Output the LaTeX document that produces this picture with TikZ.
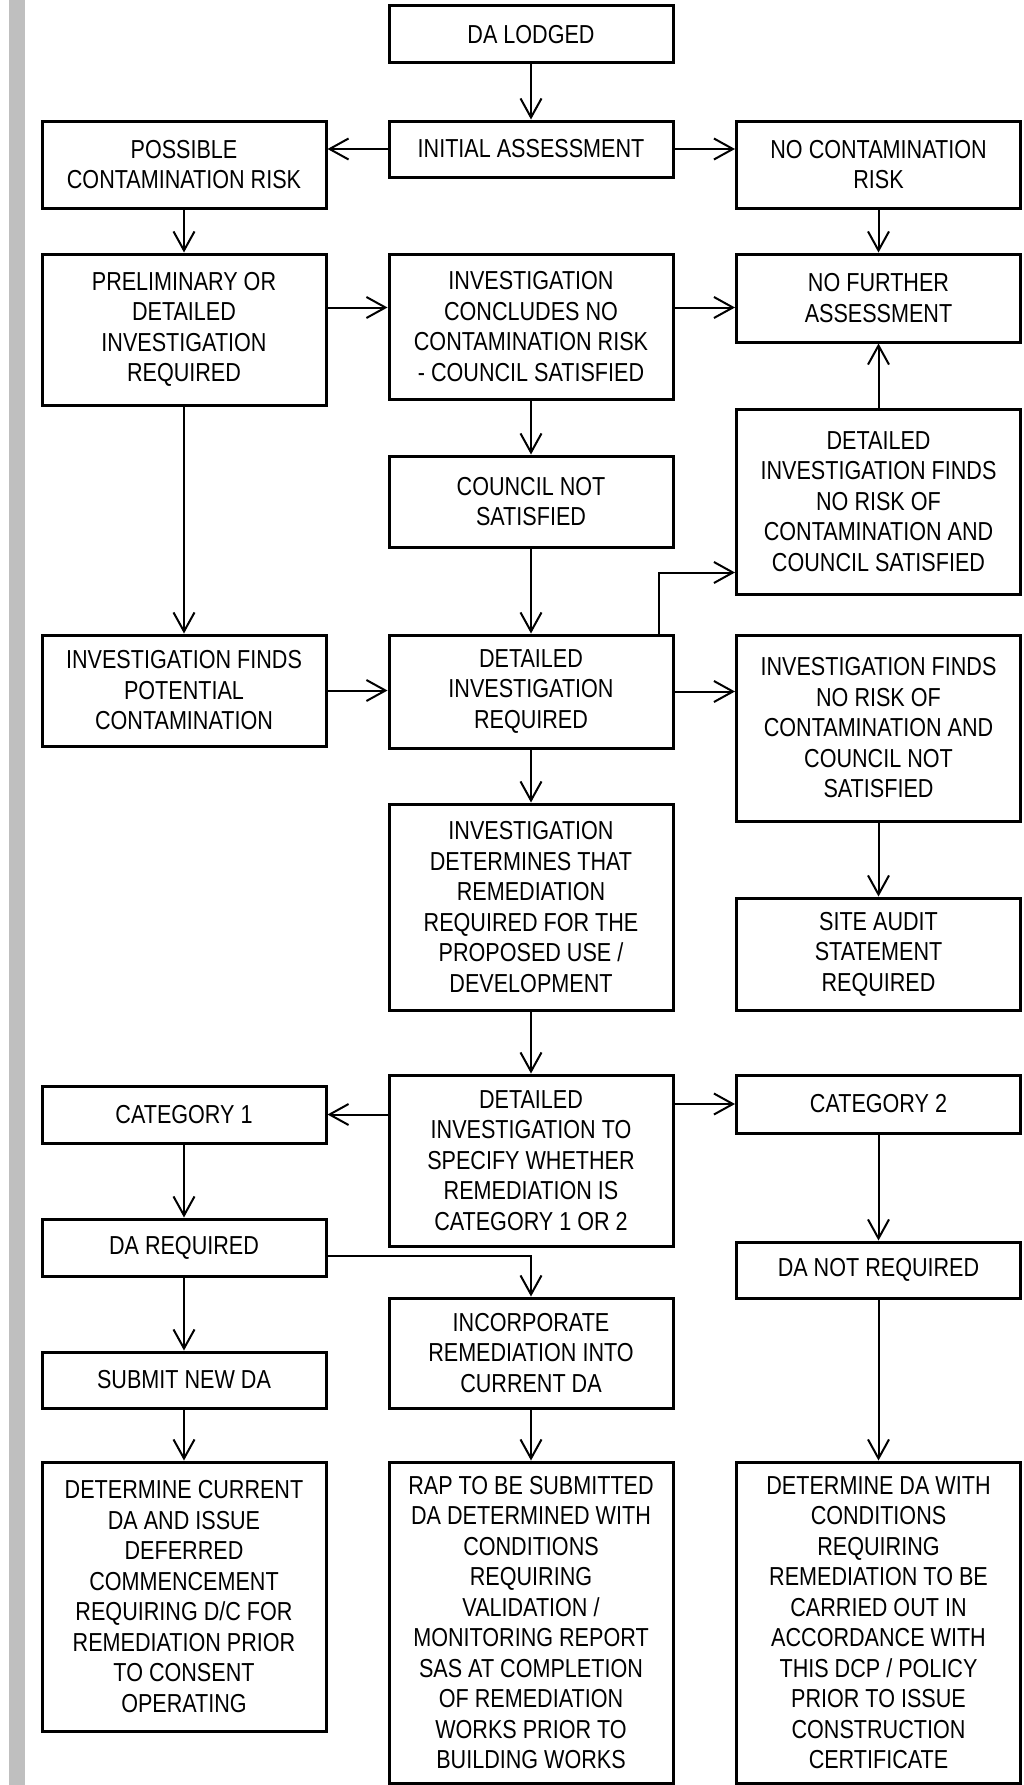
\documentclass[tikz,border=0pt]{standalone}
\usepackage{fontspec}
\setmainfont{Liberation Sans}[FakeStretch=0.83]
\usepackage{tikz}
\usetikzlibrary{arrows.meta}
\colorlet{sidebar}{black!25}

\tikzset{
	flowbox/.style={draw, line width=3pt, minimum width=284pt, inner sep=0pt, align=center, font=\fontsize{26}{30.5}\selectfont},
	link/.style={line width=2pt, -{Straight Barb[length=19pt,width=21pt,line width=2pt]}}
}

\begin{document}
\begin{tikzpicture}[x=1pt,y=-1pt]
		\useasboundingbox (0,0) rectangle (1023,1785);
		\fill[sidebar] (9,0) rectangle (25,1785);
		\node[flowbox, minimum height=57] (lodged) at (531,34.5) {DA LODGED};
		\node[flowbox, minimum height=56] (initial) at (531,149) {INITIAL ASSESSMENT};
		\node[flowbox, minimum height=87] (possible) at (184,164.5) {POSSIBLE\\CONTAMINATION RISK};
		\node[flowbox, minimum height=87] (nocontam) at (878.5,164.5) {NO CONTAMINATION\\RISK};
		\node[flowbox, minimum height=151] (prelim) at (184,329.5) {PRELIMINARY OR\\DETAILED\\INVESTIGATION\\REQUIRED};
		\node[flowbox, minimum height=145] (concludes) at (531,326.5) {INVESTIGATION\\CONCLUDES NO\\CONTAMINATION RISK\\- COUNCIL SATISFIED};
		\node[flowbox, minimum height=88] (nofurther) at (878.5,298) {NO FURTHER\\ASSESSMENT};
		\node[flowbox, minimum height=91] (notsatisfied) at (531,501.5) {COUNCIL NOT\\SATISFIED};
		\node[flowbox, minimum height=185] (satisfied) at (878.5,501.5) {DETAILED\\INVESTIGATION FINDS\\NO RISK OF\\CONTAMINATION AND\\COUNCIL SATISFIED};
		\node[flowbox, minimum height=111] (potential) at (184,690.5) {INVESTIGATION FINDS\\POTENTIAL\\CONTAMINATION};
		\node[flowbox, minimum height=113] (detailed) at (531,691.5) {DETAILED\\INVESTIGATION\\REQUIRED};
		\node[flowbox, minimum height=186] (norisk) at (878.5,728) {INVESTIGATION FINDS\\NO RISK OF\\CONTAMINATION AND\\COUNCIL NOT\\SATISFIED};
		\node[flowbox, minimum height=206] (remediation) at (531,907) {INVESTIGATION\\DETERMINES THAT\\REMEDIATION\\REQUIRED FOR THE\\PROPOSED USE /\\DEVELOPMENT};
		\node[flowbox, minimum height=112] (siteaudit) at (878.5,954) {SITE AUDIT\\STATEMENT\\REQUIRED};
		\node[flowbox, minimum height=171] (category) at (531,1160.5) {DETAILED\\INVESTIGATION TO\\SPECIFY WHETHER\\REMEDIATION IS\\CATEGORY 1 OR 2};
		\node[flowbox, minimum height=57] (catone) at (184,1114.5) {CATEGORY 1};
		\node[flowbox, minimum height=58] (cattwo) at (878.5,1104) {CATEGORY 2};
		\node[flowbox, minimum height=57] (dareq) at (184,1247.5) {DA REQUIRED};
		\node[flowbox, minimum height=56] (danotreq) at (878.5,1270) {DA NOT REQUIRED};
		\node[flowbox, minimum height=110] (incorporate) at (531,1353) {INCORPORATE\\REMEDIATION INTO\\CURRENT DA};
		\node[flowbox, minimum height=56] (submit) at (184,1380) {SUBMIT NEW DA};
		\node[flowbox, minimum height=269] (deferred) at (184,1596.5) {DETERMINE CURRENT\\DA AND ISSUE\\DEFERRED\\COMMENCEMENT\\REQUIRING D/C FOR\\REMEDIATION PRIOR\\TO CONSENT\\OPERATING};
		\node[flowbox, minimum height=321] (rap) at (531,1622.5) {RAP TO BE SUBMITTED\\DA DETERMINED WITH\\CONDITIONS\\REQUIRING\\VALIDATION /\\MONITORING REPORT\\SAS AT COMPLETION\\OF REMEDIATION\\WORKS PRIOR TO\\BUILDING WORKS};
		\node[flowbox, minimum height=321] (conditions) at (878.5,1622.5) {DETERMINE DA WITH\\CONDITIONS\\REQUIRING\\REMEDIATION TO BE\\CARRIED OUT IN\\ACCORDANCE WITH\\THIS DCP / POLICY\\PRIOR TO ISSUE\\CONSTRUCTION\\CERTIFICATE};
		\draw[link] (lodged) -- (initial);
		\draw[link] (initial.west) -- (initial.west -| possible.east);
		\draw[link] (initial.east) -- (initial.east -| nocontam.west);
		\draw[link] (possible) -- (prelim);
		\draw[link] (nocontam) -- (nofurther);
		\draw[link] ([yshift=-55]prelim.north east) -- ([yshift=-55]concludes.north west);
		\draw[link] ([yshift=-55]concludes.north east) -- ([yshift=-55]nofurther.north west);
		\draw[link] (concludes) -- (notsatisfied);
		\draw[link] (prelim) -- (potential);
		\draw[link] (notsatisfied) -- (detailed);
		\draw[link] (satisfied) -- (nofurther);
		\draw[link] ([xshift=-16]detailed.north east) |- ([yshift=23]satisfied.south west);
		\draw[link] (potential.east) -- (potential.east -| detailed.west);
		\draw[link] (detailed.east) -- (detailed.east -| norisk.west);
		\draw[link] (detailed) -- (remediation);
		\draw[link] (norisk) -- (siteaudit);
		\draw[link] (remediation) -- (category);
		\draw[link] (category.west |- catone.east) -- (catone.east);
		\draw[link] (category.east |- cattwo.west) -- (cattwo.west);
		\draw[link] (catone) -- (dareq);
		\draw[link] (cattwo) -- (danotreq);
		\draw[link] (dareq) -- (submit);
		\draw[link] ([yshift=-8]dareq.east) -| (incorporate.north);
		\draw[link] (submit) -- (deferred);
		\draw[link] (incorporate) -- (rap);
		\draw[link] (danotreq) -- (conditions);
\end{tikzpicture}
\end{document}
